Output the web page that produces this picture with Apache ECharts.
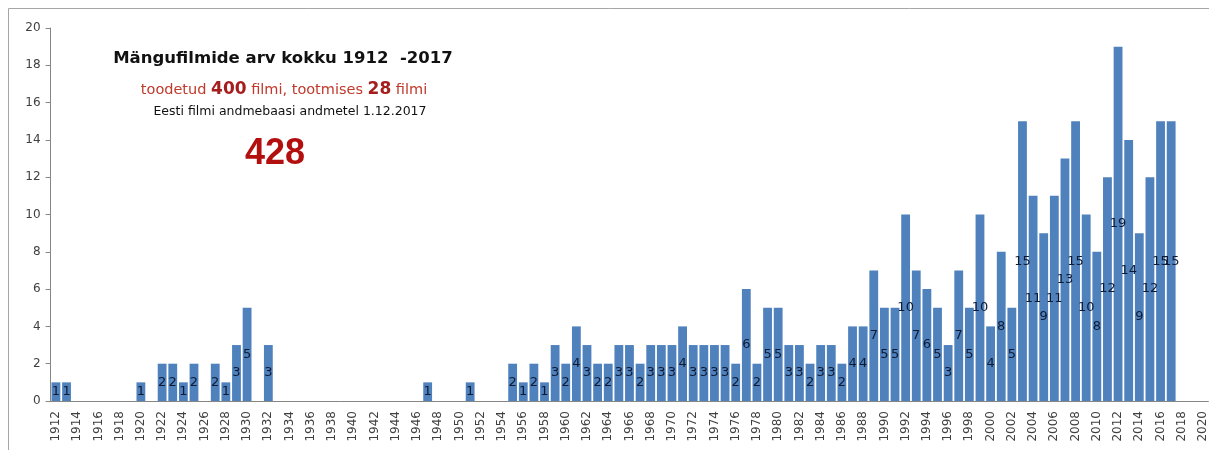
<!DOCTYPE html>
<html lang="et">
<head>
    <meta charset="UTF-8">
    <script src="https://cdn.jsdelivr.net/npm/echarts@6/dist/echarts.min.js"></script>
    <title>Mängufilmide arv</title>
</head>
<body style="margin:0;background:#fff;">
    <div id="main" style="width:1209px;height:450px;"></div>
    <script>
// aastad 1912..2020
var years = [
  '1912','1913','1914','1915','1916','1917','1918','1919','1920','1921',
  '1922','1923','1924','1925','1926','1927','1928','1929','1930','1931',
  '1932','1933','1934','1935','1936','1937','1938','1939','1940','1941',
  '1942','1943','1944','1945','1946','1947','1948','1949','1950','1951',
  '1952','1953','1954','1955','1956','1957','1958','1959','1960','1961',
  '1962','1963','1964','1965','1966','1967','1968','1969','1970','1971',
  '1972','1973','1974','1975','1976','1977','1978','1979','1980','1981',
  '1982','1983','1984','1985','1986','1987','1988','1989','1990','1991',
  '1992','1993','1994','1995','1996','1997','1998','1999','2000','2001',
  '2002','2003','2004','2005','2006','2007','2008','2009','2010','2011',
  '2012','2013','2014','2015','2016','2017','2018','2019','2020'
];
var films = [
  1,1,0,0,0,0,0,0,1,0,
  2,2,1,2,0,2,1,3,5,0,
  3,0,0,0,0,0,0,0,0,0,
  0,0,0,0,0,1,0,0,0,1,
  0,0,0,2,1,2,1,3,2,4,
  3,2,2,3,3,2,3,3,3,4,
  3,3,3,3,2,6,2,5,5,3,
  3,2,3,3,2,4,4,7,5,5,
  10,7,6,5,3,7,5,10,4,8,
  5,15,11,9,11,13,15,10,8,12,
  19,14,9,12,15,15,0,0,0
];
var yTicks = [0, 20, 2];

var myChart = echarts.init(document.getElementById('main'));
var option = {
  backgroundColor: '#ffffff',
  animation: false,
  grid: { left: 50.6, top: 28, width: 1166, height: 373 },
  xAxis: {
    type: 'category',
    data: years,
    axisLine: { lineStyle: { color: '#868686' } },
    axisTick: { interval: 0, length: 6, lineStyle: { color: '#868686' } },
    axisLabel: {
      interval: 1, rotate: 90, margin: 10,
      fontFamily: 'DejaVu Sans', fontSize: 12, color: '#404040'
    }
  },
  yAxis: {
    type: 'value',
    min: yTicks[0], max: yTicks[1], interval: yTicks[2],
    splitLine: { show: false },
    axisLine: { show: true, lineStyle: { color: '#868686' } },
    axisTick: { show: true, length: 5, lineStyle: { color: '#868686' } },
    axisLabel: { fontFamily: 'DejaVu Sans', fontSize: 12, color: '#404040', margin: 10 }
  },
  series: [{
    type: 'bar',
    data: films,
    barCategoryGap: '17%',
    itemStyle: { color: '#4f81bd' },
    label: {
      show: true,
      position: 'inside',
      fontFamily: 'DejaVu Sans',
      fontSize: 13,
      color: '#0e1a33',
      formatter: function (p) { return p.value ? String(p.value) : ''; }
    }
  }],
  graphic: [
    {
      type: 'rect', silent: true,
      shape: { x: 8.5, y: 8.5, width: 1300, height: 500 },
      style: { fill: 'none', stroke: '#a6a6a6', lineWidth: 1 }
    },
    {
      type: 'text', x: 283, y: 59,
      style: {
        text: 'Mängufilmide arv kokku 1912  -2017',
        font: 'bold 16.5px "DejaVu Sans"', fill: '#111',
        align: 'center', verticalAlign: 'middle'
      }
    },
    {
      type: 'text', x: 284, y: 90,
      style: {
        text: '{n|toodetud }{b|400}{n| filmi, tootmises }{b|28}{n| filmi}',
        align: 'center', verticalAlign: 'middle',
        rich: {
          n: { fontFamily: 'DejaVu Sans', fontSize: 14.5, fill: '#c0392b', color: '#c0392b' },
          b: { fontFamily: 'DejaVu Sans', fontWeight: 'bold', fontSize: 17, fill: '#a51d1d', color: '#a51d1d' }
        }
      }
    },
    {
      type: 'text', x: 290, y: 112,
      style: {
        text: 'Eesti filmi andmebaasi andmetel 1.12.2017',
        font: '12.5px "DejaVu Sans"', fill: '#111',
        align: 'center', verticalAlign: 'middle'
      }
    },
    {
      type: 'text', x: 275, y: 154,
      style: {
        text: '428',
        font: 'bold 36px "Liberation Sans"', fill: '#b40f0f',
        align: 'center', verticalAlign: 'middle'
      }
    }
  ]
};
myChart.setOption(option);
    </script>
</body>
</html>
